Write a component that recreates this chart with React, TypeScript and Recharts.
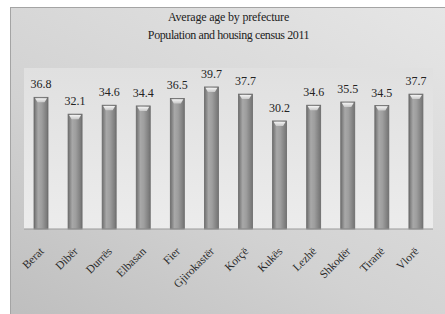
import React from 'react';
import { BarChart, Bar, XAxis, YAxis, CartesianGrid, LabelList } from 'recharts';

const titleLines = ['Average age by prefecture', 'Population and housing census  2011'];
const prefectures = ['Berat', 'Dibër', 'Durrës', 'Elbasan', 'Fier', 'Gjirokastër', 'Korçë', 'Kukës', 'Lezhë', 'Shkodër', 'Tiranë', 'Vlorë'];
const averageAge = [36.8, 32.1, 34.6, 34.4, 36.5, 39.7, 37.7, 30.2, 34.6, 35.5, 34.5, 37.7];
const yDomain = [0, 45];

const data = prefectures.map((name, i) => ({ name, value: averageAge[i] }));

const FONT = '"Liberation Serif", "Times New Roman", serif';

const CylinderBar = (props: any) => {
  const { x, y, width, height } = props;
  if (height <= 0) return null;
  const capH = 5;
  return (
    <g>
      <rect x={x} y={y} width={width} height={height} fill="url(#barGrad)" stroke="#6a6a6a" strokeWidth={0.8} />
      <path
        d={`M${x + 1},${y + 0.8} L${x + width - 1},${y + 0.8} L${x + width - 3.5},${y + capH} L${x + 3.5},${y + capH} Z`}
        fill="url(#capGrad)"
      />
    </g>
  );
};

const Tick = (props: any) => {
  const { x, y, payload } = props;
  const tx = x + 3.5;
  const ty = y + 23;
  return (
    <text
      x={tx}
      y={ty}
      transform={`rotate(-45 ${tx} ${ty})`}
      textAnchor="end"
      fontFamily={FONT}
      fontSize={11.5}
      fill="#2a2a2a"
    >
      {payload.value}
    </text>
  );
};

export default function App() {
  return (
    <div style={{ position: 'absolute', left: 0, top: 0, width: 445, height: 314, background: '#fff', overflow: 'hidden' }}>
      <div
        style={{
          position: 'absolute',
          left: 10,
          top: 7,
          width: 440,
          height: 312,
          boxSizing: 'border-box',
          border: '1px solid #a4a4a4',
          background: 'linear-gradient(30deg, #bebebe 0%, #d2d2d2 40%, #e6e6e6 100%)',
        }}
      />
      <svg style={{ position: 'absolute', left: 0, top: 0 }} width={445} height={50}>
        <text x={228.5} y={20.5} textAnchor="middle" fontFamily={FONT} fontSize={12} letterSpacing={-0.2} fill="#222">
          {titleLines[0]}
        </text>
        <text x={228.5} y={39} textAnchor="middle" fontFamily={FONT} fontSize={12} letterSpacing={-0.4} fill="#222">
          {titleLines[1]}
        </text>
      </svg>
      <div style={{ position: 'absolute', left: 0, top: 0 }}>
        <BarChart width={445} height={314} data={data} margin={{ top: 68, right: 12, bottom: 55, left: 24 }} barCategoryGap={0}>
          <defs>
            <linearGradient id="barGrad" x1="0" y1="0" x2="1" y2="0">
              <stop offset="0%" stopColor="#6e6e6e" />
              <stop offset="30%" stopColor="#a8a8a8" />
              <stop offset="55%" stopColor="#9e9e9e" />
              <stop offset="100%" stopColor="#737373" />
            </linearGradient>
            <linearGradient id="capGrad" x1="0" y1="0" x2="0" y2="1">
              <stop offset="0%" stopColor="#f4f4f4" />
              <stop offset="100%" stopColor="#c8c8c8" />
            </linearGradient>
            <linearGradient id="plotBg" x1="0" y1="0" x2="0" y2="1">
              <stop offset="0%" stopColor="#e0e0e0" />
              <stop offset="100%" stopColor="#ececec" />
            </linearGradient>
          </defs>
          <CartesianGrid horizontal={false} vertical={false} fill="url(#plotBg)" stroke="none" />
          <XAxis
            dataKey="name"
            interval={0}
            tickLine={false}
            tickSize={0}
            tickMargin={0}
            axisLine={{ stroke: '#9a9a9a' }}
            tick={<Tick />}
            height={30}
          />
          <YAxis hide domain={yDomain} />
          <Bar dataKey="value" barSize={14} shape={<CylinderBar />} isAnimationActive={false}>
            <LabelList
              dataKey="value"
              position="top"
              offset={9}
              formatter={(v: any) => Number(v).toFixed(1)}
              style={{ fontFamily: FONT, fontSize: 12, fill: '#222' }}
            />
          </Bar>
        </BarChart>
      </div>
    </div>
  );
}
